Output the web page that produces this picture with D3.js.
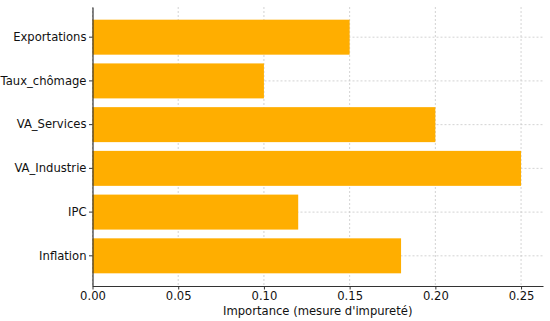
<!DOCTYPE html>
<html lang="fr">
<head>
<meta charset="UTF-8">
<script src="https://cdn.jsdelivr.net/npm/d3@7"></script>
<style>
  html, body { margin: 0; padding: 0; background: #fff; }
  svg { display: block; }
  text { font-family: "DejaVu Sans", sans-serif; fill: #111; }
</style>
</head>
<body>
<script>
// data, bottom to top as drawn
const features = ["Inflation", "IPC", "VA_Industrie", "VA_Services", "Taux_chômage", "Exportations"];
const importance = [0.18, 0.12, 0.25, 0.20, 0.10, 0.15];
const xTicks = [0, 0.05, 0.10, 0.15, 0.20, 0.25];
const xLabel = "Importance (mesure d'impureté)";

const W = 550, H = 321;
const m = { top: 7, right: 7, bottom: 35, left: 92.5 };
const fs = 11.6;

const svg = d3.select("body").append("svg")
  .attr("width", W).attr("height", H);

const x = d3.scaleLinear().domain([0, 0.2628]).range([m.left, W - m.right]);
// top category first in range order
const y = d3.scaleBand()
  .domain(features.slice().reverse())
  .range([m.top, H - m.bottom])
  .paddingInner(0.2)
  .paddingOuter(0.29);

// grid
const grid = svg.append("g")
  .attr("stroke", "#c8c8c8")
  .attr("stroke-width", 0.8)
  .attr("stroke-dasharray", "2,2");
grid.selectAll("line.gx").data(xTicks).join("line")
  .attr("x1", d => x(d)).attr("x2", d => x(d))
  .attr("y1", m.top).attr("y2", H - m.bottom);
grid.selectAll("line.gy").data(features).join("line")
  .attr("x1", m.left).attr("x2", W - m.right)
  .attr("y1", d => y(d) + y.bandwidth() / 2)
  .attr("y2", d => y(d) + y.bandwidth() / 2);

// bars
svg.append("g").selectAll("rect").data(features).join("rect")
  .attr("x", x(0))
  .attr("y", d => y(d))
  .attr("width", (d, i) => x(importance[i]) - x(0))
  .attr("height", y.bandwidth())
  .attr("fill", "#ffae00");

// axes
const xAxis = svg.append("g")
  .attr("transform", `translate(0,${H - m.bottom})`)
  .call(d3.axisBottom(x).tickValues(xTicks).tickFormat(d3.format(".2f")).tickSize(3.5).tickSizeOuter(0));
const yAxis = svg.append("g")
  .attr("transform", `translate(${m.left},0)`)
  .call(d3.axisLeft(y).tickSize(3.5).tickSizeOuter(0));

[xAxis, yAxis].forEach(a => {
  a.select(".domain").attr("stroke", "#333").attr("stroke-width", 1.2);
  a.selectAll(".tick line").attr("stroke", "#333").attr("stroke-width", 1);
  a.selectAll(".tick text").attr("font-size", fs).attr("fill", "#111")
    .style("font-family", "DejaVu Sans, sans-serif");
});
xAxis.selectAll(".tick text").attr("y", 5).attr("dy", "0.75em");
yAxis.selectAll(".tick text").attr("x", -6);

svg.append("text")
  .attr("x", (x(0) + x(0.2628)) / 2)
  .attr("y", H - 6)
  .attr("text-anchor", "middle")
  .attr("font-size", fs)
  .text(xLabel);
</script>
</body>
</html>
